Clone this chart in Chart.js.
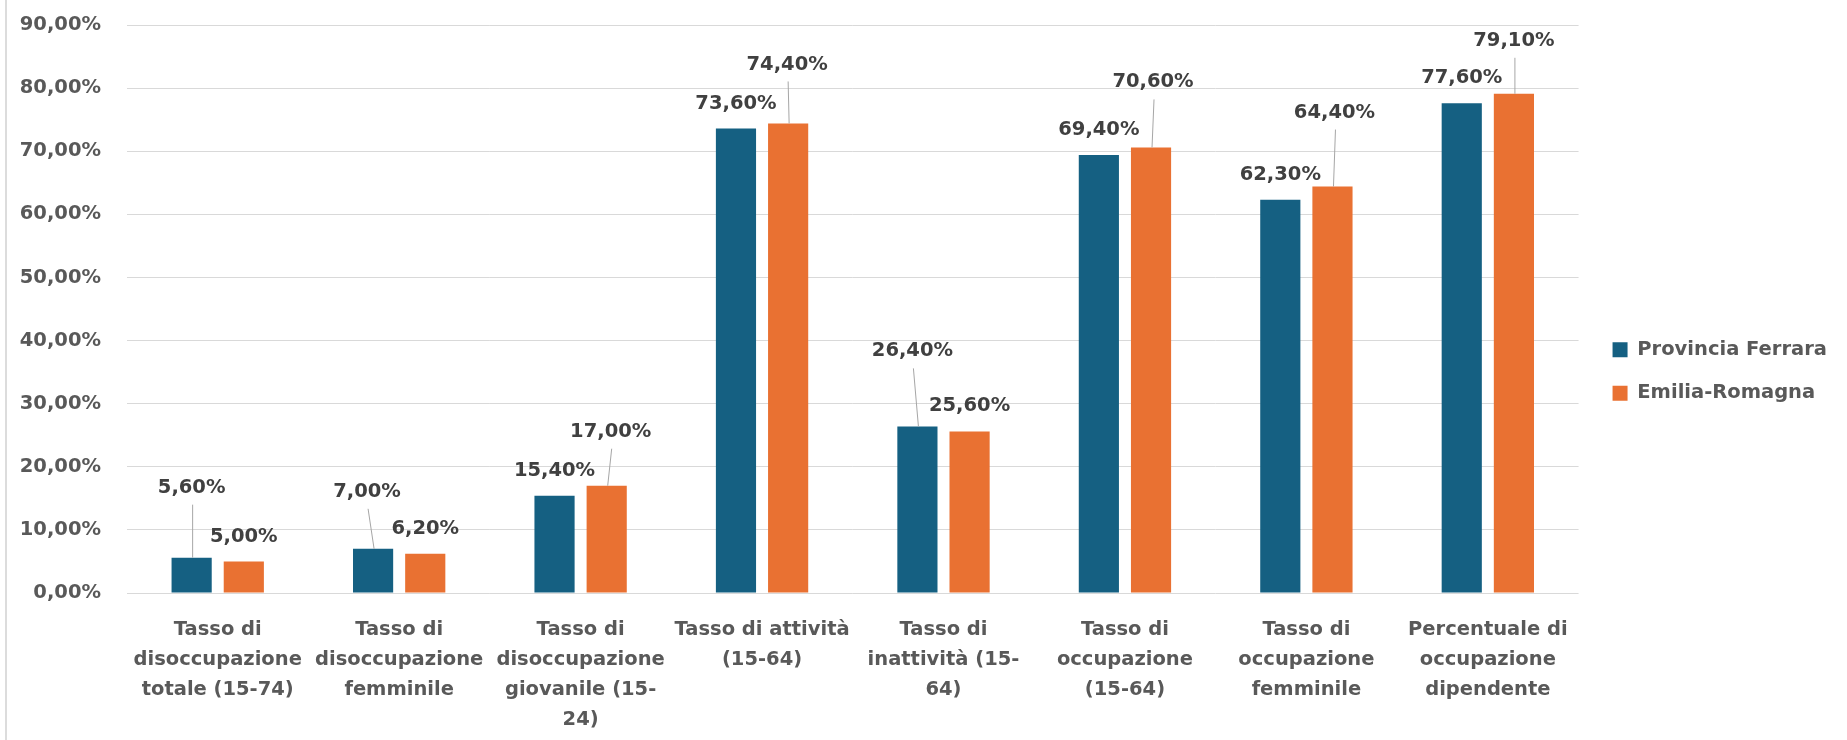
<!DOCTYPE html>
<html><head><meta charset="utf-8">
<script src="https://cdn.jsdelivr.net/npm/chart.js@4.4.1/dist/chart.umd.min.js"></script>
<style>html,body{margin:0;padding:0;background:#fff;}#wrap{width:1847px;height:740px;position:relative;}</style>
</head><body><div id="wrap"><canvas id="c"></canvas></div>
<script>
const categories = [
  ["Tasso di", "disoccupazione", "totale (15-74)"],
  ["Tasso di", "disoccupazione", "femminile"],
  ["Tasso di", "disoccupazione", "giovanile (15-", "24)"],
  ["Tasso di attività", "(15-64)"],
  ["Tasso di", "inattività (15-", "64)"],
  ["Tasso di", "occupazione", "(15-64)"],
  ["Tasso di", "occupazione", "femminile"],
  ["Percentuale di", "occupazione", "dipendente"]
];
const seriesNames = ["Provincia Ferrara", "Emilia-Romagna"];
const ferraraValues = [5.6, 7.0, 15.4, 73.6, 26.4, 69.4, 62.3, 77.6];
const emiliaValues = [5.0, 6.2, 17.0, 74.4, 25.6, 70.6, 64.4, 79.1];
const yTickValues = [0, 10, 20, 30, 40, 50, 60, 70, 80, 90];

// label displacement (style only): [dx, dy] relative to default spot, null = default
const labelShift = [
  [[0,-45],[-6,-32],null,null,[-5,-50],null,null,null],
  [null,null,[4,-29],[-1,-34],null,[2,-40],[2,-49],[0,-28]]
];

const FONT = "'DejaVu Sans', Verdana, sans-serif";
const FS = 19.5;
const fmt = v => v.toFixed(2).replace('.', ',') + '%';

const frame = {
  id: 'frame',
  afterLayout(chart) {
    const l = chart.legend;
    if (!l) return;
    const w = l.right - l.left, h = l.bottom - l.top;
    l.left = chart.chartArea.right + 10; l.right = l.left + w;
    l.top = l.top - 11; l.bottom = l.top + h;
  },
  beforeDraw(chart) {
    const ctx = chart.ctx;
    ctx.save();
    ctx.fillStyle = '#ffffff';
    ctx.fillRect(0, 0, chart.width, chart.height);
    ctx.strokeStyle = '#dcdcdc';
    ctx.lineWidth = 2;
    ctx.beginPath(); ctx.moveTo(6, 0); ctx.lineTo(6, chart.height); ctx.stroke();
    ctx.restore();
  }
};

const valueLabels = {
  id: 'valueLabels',
  afterDatasetsDraw(chart) {
    const ctx = chart.ctx;
    ctx.save();
    ctx.font = 'bold ' + FS + 'px ' + FONT;
    ctx.textAlign = 'center';
    ctx.textBaseline = 'middle';
    chart.data.datasets.forEach((ds, di) => {
      const meta = chart.getDatasetMeta(di);
      meta.data.forEach((bar, i) => {
        const sh = labelShift[di][i];
        let lx = bar.x, ly = bar.y - 25;
        if (sh) {
          lx += sh[0]; ly += sh[1];
          ctx.strokeStyle = '#a6a6a6';
          ctx.lineWidth = 1;
          ctx.beginPath();
          ctx.moveTo(lx + 1, ly + 17);
          ctx.lineTo(bar.x + 1, bar.y);
          ctx.stroke();
        }
        ctx.fillStyle = '#404040';
        ctx.fillText(fmt(ds.data[i]), lx, ly);
      });
    });
    ctx.restore();
  }
};

new Chart(document.getElementById('c'), {
  type: 'bar',
  data: {
    labels: categories,
    datasets: [
      { label: seriesNames[0], data: ferraraValues, backgroundColor: '#156082' },
      { label: seriesNames[1], data: emiliaValues, backgroundColor: '#E97132' }
    ]
  },
  options: {
    responsive: true,
    maintainAspectRatio: false,
    animation: false,
    devicePixelRatio: 1,
    datasets: { bar: { categoryPercentage: 0.575, barPercentage: 0.77 } },
    layout: { padding: { left: 20, right: 20, top: 25, bottom: 0 } },
    plugins: {
      legend: {
        position: 'right',
        align: 'center',
        labels: {
          boxWidth: 15, boxHeight: 15, padding: 24,
          color: '#595959',
          font: { family: FONT, size: FS, weight: 'bold' }
        }
      },
      tooltip: { enabled: false }
    },
    scales: {
      x: {
        grid: { display: false, drawTicks: false },
        border: { display: false },
        afterFit: a => { a.height = 147; a.paddingLeft = 0; a.paddingRight = 0; },
        ticks: {
          color: '#595959', padding: 22, autoSkip: false, maxRotation: 0, minRotation: 0,
          font: { family: FONT, size: FS, weight: 'bold', lineHeight: 30 / FS }
        }
      },
      y: {
        min: 0, max: 90,
        afterBuildTicks: axis => { axis.ticks = yTickValues.map(v => ({ value: v })); },
        afterFit: a => { a.width = 107; a.paddingTop = 0; a.paddingBottom = 0; },
        grid: { color: '#d9d9d9', lineWidth: 1, drawTicks: false },
        border: { display: false },
        ticks: {
          color: '#595959', padding: 26,
          font: { family: FONT, size: FS, weight: 'bold' },
          callback: v => fmt(v)
        }
      }
    }
  },
  plugins: [frame, valueLabels]
});
</script></body></html>
